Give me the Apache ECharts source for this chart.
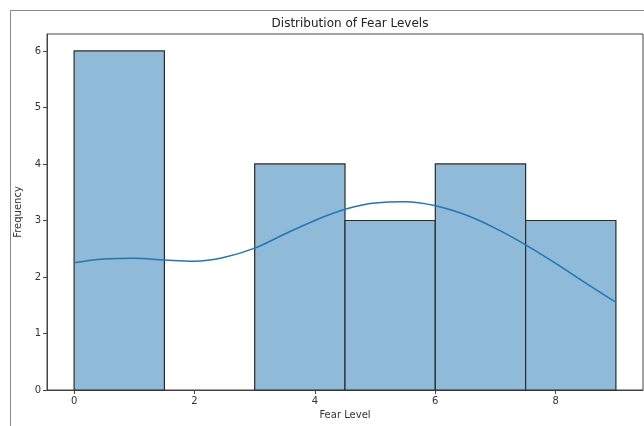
<!DOCTYPE html>
<html>
<head>
<meta charset="utf-8">
<script src="https://cdn.jsdelivr.net/npm/echarts@6/dist/echarts.min.js"></script>
<style>
  html, body { margin: 0; padding: 0; background: #fff; }
  #wrap { position: relative; width: 644px; height: 426px; overflow: hidden; }
  #frame { position: absolute; left: 10px; top: 10px; right: -2px; bottom: -2px;
           border-top: 1.5px solid #8a8a8a; border-left: 1.5px solid #8a8a8a; }
  #chart { position: absolute; left: 0; top: 0; width: 644px; height: 426px; }
</style>
</head>
<body>
<div id="wrap">
  <div id="frame"></div>
  <div id="chart"></div>
</div>
<script>
// histogram bins (Fear Level) and counts
const binEdges = [0, 1.5, 3, 4.5, 6, 7.5, 9]
const binCounts = [6, 0, 4, 3, 4, 3]

// KDE curve
const kdeX = [0, 0.5, 1, 1.5, 2, 2.5, 3, 3.5, 4, 4.5, 5, 5.5, 6, 6.5, 7, 7.5, 8, 8.5, 9]
const kdeY = [2.25, 2.32, 2.33, 2.30, 2.28, 2.35, 2.51, 2.76, 3.0, 3.2, 3.31, 3.33, 3.26, 3.1, 2.86, 2.57, 2.24, 1.89, 1.55]

const xTicks = [0, 2, 4, 6, 8]
const yTicks = [0, 1, 2, 3, 4, 5, 6]

const chart = echarts.init(document.getElementById('chart'))

const bars = binCounts.map((c, i) => [binEdges[i], binEdges[i + 1], c])
const kde = kdeX.map((x, i) => [x, kdeY[i]])

const axisText = { color: '#333', fontSize: 10, fontFamily: 'DejaVu Sans' }

chart.setOption({
  animation: false,
  title: {
    text: 'Distribution of Fear Levels',
    left: 345,
    textAlign: 'center',
    top: 13,
    textStyle: { fontFamily: 'DejaVu Sans', fontSize: 12, fontWeight: 'normal', color: '#222' }
  },
  grid: {
    left: 47, right: 1, top: 34, bottom: 36,
    show: true, borderColor: '#444', borderWidth: 1
  },
  xAxis: {
    type: 'value',
    min: -0.45,
    max: 9.45,
    name: 'Fear Level',
    nameLocation: 'middle',
    nameGap: 20,
    nameTextStyle: { color: '#333', fontSize: 10, fontFamily: 'DejaVu Sans' },
    splitLine: { show: false },
    axisLine: { show: true, onZero: false, lineStyle: { color: '#444' } },
    axisTick: { show: true, length: 4, customValues: xTicks, lineStyle: { color: '#444' } },
    axisLabel: Object.assign({ customValues: xTicks, margin: 6 }, axisText)
  },
  yAxis: {
    type: 'value',
    min: 0,
    max: 6.3,
    name: 'Frequency',
    nameLocation: 'middle',
    nameGap: 22,
    nameTextStyle: { color: '#333', fontSize: 10, fontFamily: 'DejaVu Sans' },
    splitLine: { show: false },
    axisLine: { show: true, onZero: false, lineStyle: { color: '#444' } },
    axisTick: { show: true, length: 4, customValues: yTicks, lineStyle: { color: '#444' } },
    axisLabel: Object.assign({ customValues: yTicks, margin: 6 }, axisText)
  },
  series: [
    {
      type: 'custom',
      data: bars,
      renderItem: function (params, api) {
        if (api.value(2) <= 0) return null
        const p0 = api.coord([api.value(0), 0])
        const p1 = api.coord([api.value(1), api.value(2)])
        return {
          type: 'rect',
          shape: { x: p0[0], y: p1[1], width: p1[0] - p0[0], height: p0[1] - p1[1] },
          style: { fill: '#8fbbd9', stroke: '#2b2b2b', lineWidth: 1.2, opacity: 1 }
        }
      },
      z: 2
    },
    {
      type: 'line',
      data: kde,
      smooth: 0.4,
      showSymbol: false,
      lineStyle: { color: '#1f77b4', width: 1.5 },
      z: 3
    }
  ]
})
</script>
</body>
</html>
